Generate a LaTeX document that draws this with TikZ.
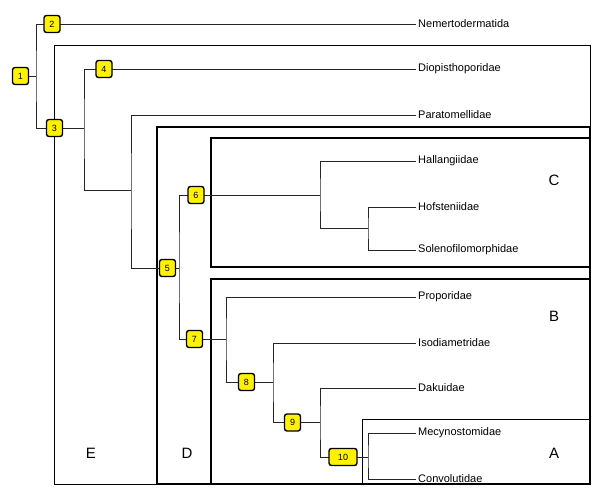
\documentclass[tikz,border=0pt]{standalone}
\usepackage{fontspec}
\setmainfont{Liberation Sans}
\begin{document}
\begin{tikzpicture}[x=1pt,y=-1pt,
  num/.style={draw=black,line width=1.4pt,fill=yellow,rounded corners=2.5pt,
    minimum width=16pt,minimum height=17pt,inner sep=0pt,font=\fontsize{9}{10}\selectfont},
  taxon/.style={anchor=west,inner sep=0pt,font=\fontsize{11}{12}\selectfont},
  letter/.style={inner sep=0pt,font=\fontsize{15}{16}\selectfont},
  branch/.style={draw=black!85,line width=0.8pt},
  thinbox/.style={draw=black,line width=0.9pt},
  thickbox/.style={draw=black,line width=1.8pt}]
\useasboundingbox (0,0) rectangle (600,492);
% clade boxes
\draw[thinbox] (54,45) rectangle (590,484);
\draw[thickbox] (157,127) rectangle (590,484);
\draw[thinbox,line width=1.1pt] (211,138) rectangle (590,267);
\draw[thickbox] (211,279) rectangle (590,484);
\draw[thinbox] (362,419) rectangle (590,484);
\node[letter] (lE) at (91,453) {E};
\node[letter] (lD) at (187,453) {D};
\node[letter] (lC) at (554,180) {C};
\node[letter] (lB) at (554,316) {B};
\node[letter] (lA) at (554,453) {A};
% taxa
\node[taxon] (t1) at (418,24) {Nemertodermatida};
\node[taxon] (t2) at (418,69) {Diopisthoporidae};
\node[taxon] (t3) at (418,115) {Paratomellidae};
\node[taxon] (t4) at (418,161) {Hallangiidae};
\node[taxon] (t5) at (418,207) {Hofsteniidae};
\node[taxon] (t6) at (418,250) {Solenofilomorphidae};
\node[taxon] (t7) at (418,297) {Proporidae};
\node[taxon] (t8) at (418,343) {Isodiametridae};
\node[taxon] (t9) at (418,388) {Dakuidae};
\node[taxon] (t10) at (418,433) {Mecynostomidae};
\node[taxon] (t11) at (418,479) {Convolutidae};
% junction coordinates
\coordinate (j1) at (36,76);
\coordinate (j3) at (84,128);
\coordinate (jP) at (131,190);
\coordinate (j5) at (179,268);
\coordinate (j6) at (320,195);
\coordinate (j6b) at (368,228);
\coordinate (j7) at (226,339);
\coordinate (j8) at (273,382);
\coordinate (j9) at (320,422.5);
\coordinate (j10) at (368,457);
% numbered node positions (coordinates first so branches lie beneath)
\coordinate (p1) at (20.5,76);
\coordinate (p2) at (52,24);
\coordinate (p3) at (54.5,128);
\coordinate (p4) at (104,69);
\coordinate (p5) at (167.5,268);
\coordinate (p6) at (196,195);
\coordinate (p7) at (194.5,339);
\coordinate (p8) at (246.5,382);
\coordinate (p9) at (292.5,422.5);
\coordinate (p10) at (343,457);
% branches
\draw[branch] (p1) -- (j1);
\draw[branch] (p2) -| (j1) |- (p3);
\draw[branch] (p2) -- ([xshift=-2pt]t1.west);
\draw[branch] (p3) -- (j3);
\draw[branch] (p4) -| (j3) |- (jP);
\draw[branch] (p4) -- ([xshift=-2pt]t2.west);
\draw[branch] ([xshift=-2pt]t3.west) -| (jP) |- (p5);
\draw[branch] (p5) -- (j5);
\draw[branch] (p6) -| (j5) |- (p7);
\draw[branch] (p6) -- (j6);
\draw[branch] ([xshift=-2pt]t4.west) -| (j6) |- (j6b);
\draw[branch] ([xshift=-2pt]t5.west) -| (j6b) |- ([xshift=-2pt]t6.west);
\draw[branch] (p7) -- (j7);
\draw[branch] ([xshift=-2pt]t7.west) -| (j7) |- (p8);
\draw[branch] (p8) -- (j8);
\draw[branch] ([xshift=-2pt]t8.west) -| (j8) |- (p9);
\draw[branch] (p9) -- (j9);
\draw[branch] ([xshift=-2pt]t9.west) -| (j9) |- (p10);
\draw[branch] (p10) -- (j10);
\draw[branch] ([xshift=-2pt]t10.west) -| (j10) |- ([xshift=-2pt]t11.west);
% numbered nodes
\node[num] (n1) at (p1) {1};
\node[num] (n2) at (p2) {2};
\node[num] (n3) at (p3) {3};
\node[num] (n4) at (p4) {4};
\node[num] (n5) at (p5) {5};
\node[num] (n6) at (p6) {6};
\node[num] (n7) at (p7) {7};
\node[num] (n8) at (p8) {8};
\node[num] (n9) at (p9) {9};
\node[num,minimum width=28pt] (n10) at (p10) {10};
\end{tikzpicture}
\end{document}
